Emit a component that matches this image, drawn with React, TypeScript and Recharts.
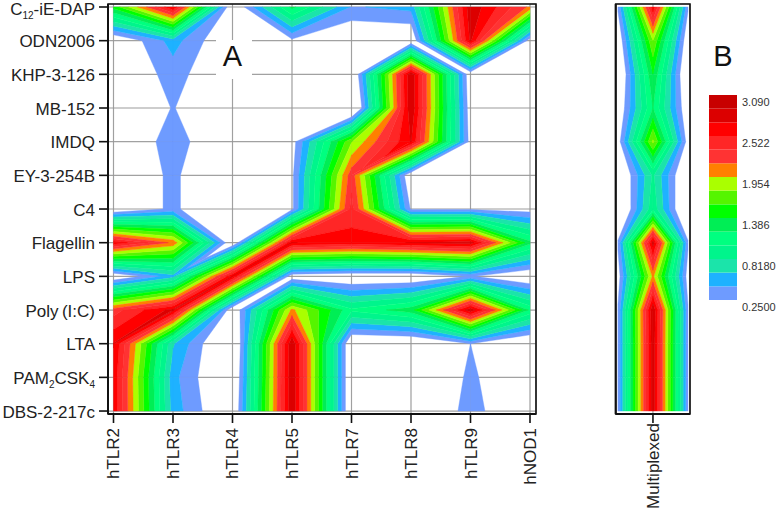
import React from "react";
import {
  ScatterChart, Scatter, XAxis, YAxis, CartesianGrid, ReferenceArea,
  BarChart, Bar,
} from "recharts";

const FONT = "'Liberation Sans', Arial, sans-serif";

const receptors = ["hTLR2", "hTLR3", "hTLR4", "hTLR5", "hTLR7", "hTLR8", "hTLR9", "hNOD1"];
const ligands = [
  "C_{12}-iE-DAP", "ODN2006", "KHP-3-126", "MB-152", "IMDQ", "EY-3-254B", "C4",
  "Flagellin", "LPS", "Poly\u2009(I:C)", "LTA", "PAM_{2}CSK_{4}", "DBS-2-217c",
];

// One value per ligand, top to bottom
const hTLR2 = [1.45, 0, 0, 0, 0, 0, 0, 2.65, 0, 2.25, 2.72, 2.65, 2.65];
const hTLR3 = [2.7, 0.52, 0.34, 0.26, 0.35, 0.3, 0.3, 2.1, 0.55, 2.78, 0.65, 0.5, 0.54];
const hTLR4 = [0, 0, 0, 0, 0, -0.1, -0.1, 0, 2.72, 0, -0.15, -0.1, -0.05];
const hTLR5 = [1.25, 0.2, 0, 0, 0.15, 0.2, 0.2, 2.72, 0.08, 2.0, 2.88, 2.88, 2.88];
const hTLR7 = [0.42, 0, -0.09, -0.3, 1.75, 2.26, 2.4, 2.62, 0, 1.05, -0.05, -0.05, -0.05];
const hTLR8 = [0.5, 0, 2.88, 2.88, 2.72, 0, 0.22, 2.72, 0, 1.3, -0.05, -0.05, -0.05];
const hTLR9 = [2.85, 2.75, 0.05, 0.1, 0.15, 0, 0.22, 2.8, 0.27, 2.85, 0.25, 0.29, 0.33];
const hNOD1 = [2.1, 0.1, 0, 0, 0, 0, 0.15, 1.25, 0, 1.15, -0.07, 0, 0];

// Multiplexed panel: centre value and the (mirrored) rim value for each ligand
const multiplexedCentre = [2.65, 1.76, 1.38, 1.2, 1.8, 0.85, 0.95, 2.8, 2.0, 2.88, 2.85, 2.85, 2.85];
const multiplexedRim = [0.28, 0.04, -0.09, 0.03, 0.14, -0.1, -0.16, 0.28, 0.14, 0.27, 0.27, 0.27, 0.27];

const levels = [0.25, 0.439, 0.629, 0.818, 1.007, 1.197, 1.386, 1.575, 1.765, 1.954, 2.144, 2.333, 2.522, 2.711, 2.901, 3.09];
const bandColors = [
  "#6e9bff", "#1eb2ff", "#1be4aa", "#00f58c", "#00ff80", "#00ee55", "#00ff00", "#55f500",
  "#aaff00", "#ff8000", "#ff3333", "#ff2626", "#ff0000", "#dc0000", "#c80000",
];
const legendTicks = [0.25, 0.818, 1.386, 1.954, 2.522, 3.09];
const legendLabels = ["0.2500", "0.8180", "1.386", "1.954", "2.522", "3.090"];

type V = [number, number, number];

function clip(poly: V[], level: number, above: boolean): V[] {
  const out: V[] = [];
  const inside = (p: V) => (above ? p[2] >= level : p[2] <= level);
  for (let i = 0; i < poly.length; i++) {
    const a = poly[i];
    const b = poly[(i + 1) % poly.length];
    if (inside(a)) out.push(a);
    if (inside(a) !== inside(b)) {
      const t = (level - a[2]) / (b[2] - a[2]);
      out.push([a[0] + t * (b[0] - a[0]), a[1] + t * (b[1] - a[1]), level]);
    }
  }
  return out;
}

function cellPieces(w: number, h: number, tl: number, tr: number, bl: number, br: number): V[][] {
  const A: V = [0, 0, tl];
  const B: V = [w, 0, tr];
  const C: V = [w, h, br];
  const D: V = [0, h, bl];
  const saddle = Math.min(tl, br) > Math.max(tr, bl) || Math.min(tr, bl) > Math.max(tl, br);
  if (!saddle) return [[A, B, C, D]];
  if (Math.abs(tl - br) <= Math.abs(tr - bl)) return [[A, B, C], [A, C, D]];
  return [[A, B, D], [B, C, D]];
}

function makeCellShape(w: number, h: number) {
  return function CellShape(props: any) {
    const { cx, cy, payload } = props;
    if (cx == null || cy == null || !payload) return <g />;
    const pieces = cellPieces(w, h, payload.tl, payload.tr, payload.bl, payload.br);
    const shapes: React.ReactNode[] = [];
    pieces.forEach((piece, pi) => {
      bandColors.forEach((color, bi) => {
        const poly = clip(clip(piece, levels[bi], true), levels[bi + 1], false);
        if (poly.length < 3) return;
        shapes.push(
          <polygon
            key={`${pi}-${bi}`}
            points={poly.map((p) => `${cx + p[0]},${cy + p[1]}`).join(" ")}
            fill={color}
            stroke={color}
            strokeWidth={0.4}
          />
        );
      });
    });
    return <g>{shapes}</g>;
  };
}

function buildCells(columns: number[][]) {
  const cells: any[] = [];
  for (let c = 0; c < columns.length - 1; c++) {
    for (let r = 0; r < columns[c].length - 1; r++) {
      cells.push({
        x: c, y: r,
        tl: columns[c][r], tr: columns[c + 1][r],
        bl: columns[c][r + 1], br: columns[c + 1][r + 1],
      });
    }
  }
  return cells;
}

const rowTicks = ligands.map((_, i) => i);

function LigandTick({ x, y, index }: any) {
  const parts = ligands[index].split(/_\{(\d+)\}/);
  return (
    <text x={x} y={y + (index === 0 ? 8 : 6.5)} textAnchor="end" fontFamily={FONT} fontSize={17} fill="#222">
      {parts.map((p, i) =>
        i % 2 === 1 ? (
          <tspan key={i} fontSize={10} dy={4}>{p}</tspan>
        ) : (
          <tspan key={i} dy={i === 0 ? 0 : -4}>{p}</tspan>
        )
      )}
    </text>
  );
}

function rotatedTick(labels: string[]) {
  return function RotatedTick({ x, y, index }: any) {
    return (
      <text
        transform={`translate(${x + 6} ${y}) rotate(-90)`}
        textAnchor="end"
        fontFamily={FONT} fontSize={17} fill="#222"
      >
        {labels[index]}
      </text>
    );
  };
}

const CHART_H = 511;
const M_TOP = 4;
const M_BOTTOM = 97;
const PLOT_H = CHART_H - M_TOP - M_BOTTOM;
const ROW_DOMAIN: [number, number] = [-0.089, 12.088];
const ROW_PX = PLOT_H / (ROW_DOMAIN[1] - ROW_DOMAIN[0]);

const A_W = 560;
const A_PLOT_W = 428;
const A_DOMAIN: [number, number] = [-0.0924, 7.1008];
const A_COL_PX = A_PLOT_W / (A_DOMAIN[1] - A_DOMAIN[0]);
const mainCells = buildCells([hTLR2, hTLR3, hTLR4, hTLR5, hTLR7, hTLR8, hTLR9, hNOD1]);
const MainCell = makeCellShape(A_COL_PX, ROW_PX);

const B_PLOT_W = 74.3;
const B_DOMAIN: [number, number] = [-0.063, 2.057];
const B_COL_PX = B_PLOT_W / (B_DOMAIN[1] - B_DOMAIN[0]);
const multiCells = buildCells([multiplexedRim, multiplexedCentre, multiplexedRim]);
const MultiCell = makeCellShape(B_COL_PX, ROW_PX);

const GRID = "#ababab";
const GRID_OVER = "rgba(70,70,70,0.10)";
const FRAME = "#111";

function ContourPanel({ w, left, right, domain, xTicks, labels, cells, Shape, yAxisWidth, tickMargin, ligandLabels, xHeight }: any) {
  return (
    <ScatterChart
      width={w}
      height={CHART_H}
      margin={{ top: M_TOP, bottom: M_BOTTOM - xHeight, left, right }}
      style={{ overflow: "visible" }}
    >
      <CartesianGrid stroke={GRID} strokeWidth={1.2} />
      <XAxis
        type="number" dataKey="x" domain={domain} ticks={xTicks} allowDataOverflow
        height={xHeight} interval={0} tickSize={9} tickMargin={tickMargin}
        axisLine={{ stroke: FRAME, strokeWidth: 2 }} tickLine={{ stroke: FRAME, strokeWidth: 1.6 }}
        tick={rotatedTick(labels)}
      />
      <YAxis
        type="number" dataKey="y" domain={ROW_DOMAIN} ticks={rowTicks} allowDataOverflow reversed
        width={yAxisWidth} interval={0} tickSize={9} tickMargin={4}
        axisLine={{ stroke: FRAME, strokeWidth: 2 }} tickLine={{ stroke: FRAME, strokeWidth: 1.6 }}
        tick={ligandLabels ? LigandTick : false}
      />
      <Scatter data={cells} isAnimationActive={false} shape={Shape} />
      <CartesianGrid stroke={GRID_OVER} strokeWidth={1} />
      <ReferenceArea
        x1={domain[0]} x2={domain[1]} y1={ROW_DOMAIN[0]} y2={ROW_DOMAIN[1]}
        fill="none" fillOpacity={0} stroke={FRAME} strokeWidth={1.6} strokeOpacity={1} ifOverflow="visible"
      />
    </ScatterChart>
  );
}

function LegendTick({ x, y, index }: any) {
  return (
    <text x={x} y={y + 10.5} textAnchor="start" fontFamily={FONT} fontSize={11} fill="#333">
      {legendLabels[index]}
    </text>
  );
}

const legendRow: any = { name: "scale" };
bandColors.forEach((_, i) => {
  legendRow[`b${i}`] = i === 0 ? levels[1] : levels[i + 1] - levels[i];
});

const letter: React.CSSProperties = {
  position: "absolute",
  fontFamily: FONT,
  fontSize: 29,
  textAlign: "center",
  color: "#111",
  background: "#fff",
};

export default function App() {
  return (
    <div style={{ position: "absolute", left: 0, top: 0, width: 777, height: 511, background: "#fff", overflow: "hidden" }}>
      <div style={{ position: "absolute", left: 0, top: 0 }}>
        <ContourPanel
          w={A_W} left={8} right={A_W - 108 - A_PLOT_W} domain={A_DOMAIN}
          xTicks={receptors.map((_, i) => i)} labels={receptors}
          cells={mainCells} Shape={MainCell} yAxisWidth={100} tickMargin={5} ligandLabels xHeight={90}
        />
      </div>
      <div style={{ ...letter, left: 216, top: 40, width: 36, height: 39, lineHeight: "33px", textIndent: -3 }}>A</div>
      <div style={{ position: "absolute", left: 590, top: 0 }}>
        <ContourPanel
          w={110} left={5} right={110 - 25.7 - B_PLOT_W} domain={B_DOMAIN}
          xTicks={[1]} labels={["Multiplexed"]}
          cells={multiCells} Shape={MultiCell} yAxisWidth={20.7} tickMargin={0} ligandLabels={false} xHeight={90}
        />
      </div>
      <div style={{ ...letter, left: 708, top: 37, width: 30, height: 38, lineHeight: "38px", background: "transparent" }}>B</div>
      <div style={{ position: "absolute", left: 709, top: 95 }}>
        <BarChart
          width={68} height={228} data={[legendRow]} barCategoryGap={0}
          margin={{ top: 0, bottom: 23, left: 0, right: 0 }}
          style={{ overflow: "visible" }}
        >
          <XAxis dataKey="name" hide />
          <YAxis
            type="number" orientation="right" domain={[0.25, 3.09]} ticks={legendTicks} allowDataOverflow
            width={40} axisLine={false} tickLine={false} tickSize={0} tickMargin={5} interval={0} tick={LegendTick}
          />
          {bandColors.map((color, i) => (
            <Bar key={i} dataKey={`b${i}`} stackId="scale" fill={color} isAnimationActive={false} />
          ))}
        </BarChart>
      </div>
    </div>
  );
}
